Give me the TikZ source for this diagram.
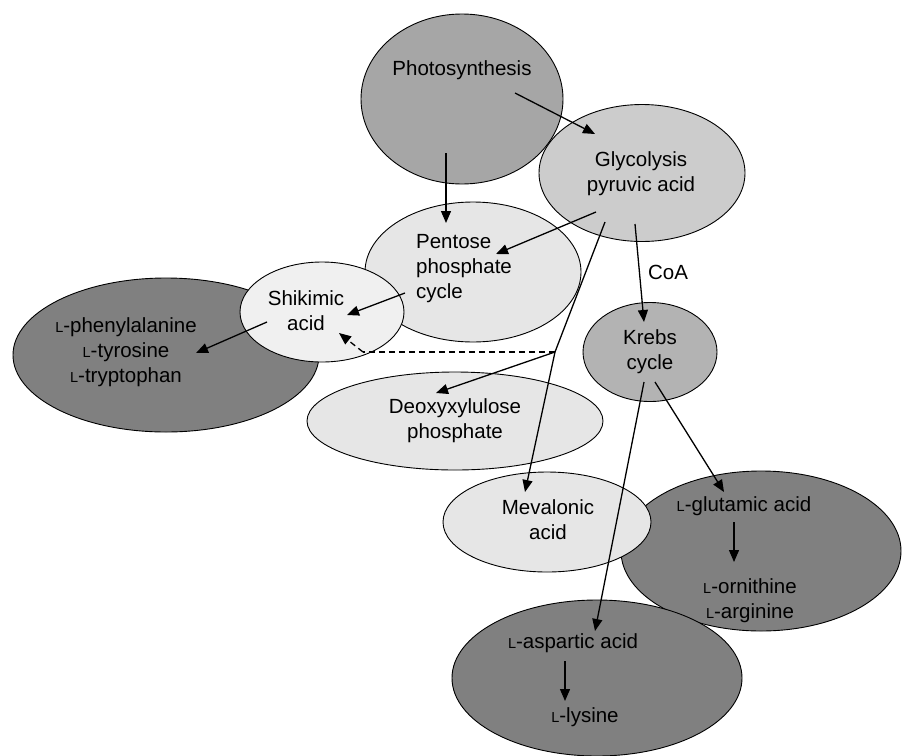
\documentclass[tikz,border=0pt]{standalone}
\usepackage{fontspec}
\setmainfont{Liberation Sans}
\usetikzlibrary{arrows.meta,shapes.geometric}
\newcommand{\Lsc}{{\fontsize{14.5}{14.5}\selectfont L}}
\definecolor{gPhoto}{HTML}{A6A6A6}
\definecolor{gGly}{HTML}{CCCCCC}
\definecolor{gLight}{HTML}{E6E6E6}
\definecolor{gShik}{HTML}{F0F0F0}
\definecolor{gDark}{HTML}{808080}
\definecolor{gKrebs}{HTML}{B3B3B3}
\tikzset{
  ell/.style={ellipse, draw=black, line width=0.9pt, inner sep=0pt},
  lbl/.style={font=\fontsize{20.5}{25}\selectfont, align=center, inner sep=0pt},
  arr/.style={line width=1.3pt, -{Triangle[length=12pt,width=10pt]}},
}
\begin{document}
\begin{tikzpicture}[x=1pt,y=-1pt]
\useasboundingbox (0,0) rectangle (909,755);
% ellipses (back to front)
\node[ell, fill=gDark, minimum width=306pt, minimum height=154pt] (phen) at (166,355) {};
\node[ell, fill=gLight, minimum width=216pt, minimum height=140pt] (pent) at (473,272) {};
\node[ell, fill=gShik, minimum width=164pt, minimum height=100pt] (shik) at (322,312) {};
\node[ell, fill=gPhoto, minimum width=202pt, minimum height=170pt] (photo) at (462,99) {};
\node[ell, fill=gGly, minimum width=206pt, minimum height=137pt] (glyc) at (642,173) {};
\node[ell, fill=gLight, minimum width=296pt, minimum height=98pt] (deoxy) at (455,421) {};
\node[ell, fill=gKrebs, minimum width=134pt, minimum height=99pt] (krebs) at (650,352) {};
\node[ell, fill=gDark, minimum width=280pt, minimum height=160pt] (glut) at (761,551) {};
\node[ell, fill=gLight, minimum width=208pt, minimum height=100pt] (meval) at (547,522) {};
\node[ell, fill=gDark, minimum width=290pt, minimum height=156pt] (asp) at (597,678) {};
% labels
\node[lbl] (tphoto) at (462,70) {Photosynthesis};
\node[lbl] (tglyc) at (641,174) {Glycolysis\\pyruvic acid};
\node[lbl, align=left] (tpent) at (464,269) {Pentose\\phosphate\\cycle};
\node[lbl] (tshik) at (306,311) {Shikimic\\acid};
\node[lbl] (tphen) at (126,352) {\Lsc-phenylalanine\\\Lsc-tyrosine\\\Lsc-tryptophan};
\node[lbl] (tdeoxy) at (455,421) {Deoxyxylulose\\phosphate};
\node[lbl] (tmeval) at (548,520) {Mevalonic\\acid};
\node[lbl] (tkrebs) at (650,352) {Krebs\\cycle};
\node[lbl] (tcoa) at (668,272) {CoA};
\node[lbl] (tglu) at (744,506) {\Lsc-glutamic acid};
\node[lbl] (torn) at (750,601) {\Lsc-ornithine\\\Lsc-arginine};
\node[lbl] (taspa) at (573,643) {\Lsc-aspartic acid};
\node[lbl] (tlys) at (585,717) {\Lsc-lysine};
% connector end points
\coordinate (p1) at (446,153); \coordinate (p2) at (446,223);
\coordinate (p3) at (515,93);  \coordinate (p4) at (595,134);
\coordinate (g1) at (596,212); \coordinate (g2) at (496,254);
\coordinate (g3) at (605,222); \coordinate (kink) at (555,352); \coordinate (g4) at (525,492);
\coordinate (d1) at (436,393);
\coordinate (s0) at (363,352); \coordinate (s1) at (339,333);
\coordinate (g5) at (635,224); \coordinate (k1) at (644,322);
\coordinate (e1) at (405,293); \coordinate (e2) at (347,315);
\coordinate (h1) at (267,322); \coordinate (h2) at (196,353);
\coordinate (k2) at (644,382); \coordinate (a1) at (595,631);
\coordinate (k3) at (655,382); \coordinate (u1) at (724,492);
\coordinate (u2) at (734,522); \coordinate (u3) at (734,562);
\coordinate (a2) at (565,661); \coordinate (a3) at (565,701);
% connectors
\draw[arr] (p1) -- (p2);
\draw[arr] (p3) -- (p4);
\draw[arr] (g1) -- (g2);
\draw[arr] (g3) -- (kink) -- (g4);
\draw[arr] (kink) -- (d1);
\draw[line width=1.3pt, dash pattern=on 6pt off 4pt] (kink) -- (s0);
\draw[arr, dash pattern=on 6pt off 4pt] (s0) -- (s1);
\draw[arr] (g5) -- (k1);
\draw[arr] (e1) -- (e2);
\draw[arr] (h1) -- (h2);
\draw[arr] (k2) -- (a1);
\draw[arr] (k3) -- (u1);
\draw[arr] (u2) -- (u3);
\draw[arr] (a2) -- (a3);
\end{tikzpicture}
\end{document}
